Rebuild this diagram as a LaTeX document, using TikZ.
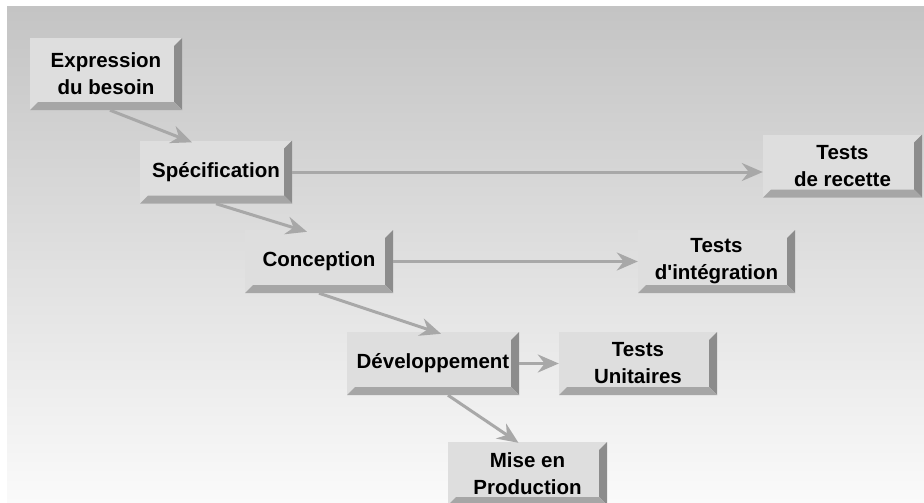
\documentclass[tikz,border=0pt]{standalone}
\usepackage{fontspec}
\setmainfont{Liberation Sans}
\usetikzlibrary{arrows.meta}

\definecolor{boxface}{HTML}{DEDEDE}
\definecolor{bevelright}{HTML}{8C8C8C}
\definecolor{bevelbottom}{HTML}{A6A6A6}
\definecolor{arrowgray}{HTML}{A8A8A8}
\definecolor{bgtop}{HTML}{C4C4C4}
\definecolor{bgmid}{HTML}{E2E2E2}
\definecolor{bgbottom}{HTML}{FAFAFA}

\tikzset{
    stage/.style={rectangle, fill=boxface, inner sep=0pt, align=center,
        minimum height=63pt,
        font=\bfseries\fontsize{20.5}{27}\selectfont,
        path picture={
            \fill[bevelright] (path picture bounding box.north east)
                -- (path picture bounding box.south east)
                -- ([shift={(-8pt,8pt)}]path picture bounding box.south east)
                -- ([shift={(-8pt,-8pt)}]path picture bounding box.north east) -- cycle;
            \fill[bevelbottom] (path picture bounding box.south west)
                -- (path picture bounding box.south east)
                -- ([shift={(-8pt,8pt)}]path picture bounding box.south east)
                -- ([shift={(8pt,8pt)}]path picture bounding box.south west) -- cycle;
        }},
    flow/.style={-{Stealth[length=21pt,width=18pt,inset=7pt]}, arrowgray, line width=3pt}
}

\begin{document}
\begin{tikzpicture}[x=1pt, y=-1pt]
    \clip (0,0) rectangle (924,503);
    \fill[white] (0,0) rectangle (924,503);
    \shade[top color=bgtop, middle color=bgmid, bottom color=bgbottom] (7,7) rectangle (924,503);

    % Nodes
    \node[stage, minimum width=152pt, minimum height=72pt] (exp) at (106,74) {Expression\\du besoin};
    \node[stage, minimum width=152pt] (spec) at (216,172) {Spécification};
    \node[stage, minimum width=148pt] (conc) at (319,261.5) {Conception};
    \node[stage, minimum width=172pt] (dev) at (433,363.5) {Développement};
    \node[stage, minimum width=158pt] (unit) at (638,363.5) {Tests\\Unitaires};
    \node[stage, minimum width=159pt] (mise) at (527.5,473.5) {Mise en\\Production};
    \node[stage, minimum width=159pt] (recette) at (842.5,166) {Tests\\de recette};
    \node[stage, minimum width=157pt] (integ) at (716.5,261.5) {Tests\\d\textquotesingle intégration};

    % Arrows
    \draw[flow] ([xshift=4pt]exp.south) -- ([xshift=-24pt,yshift=-2pt]spec.north);
    \draw[flow] (spec.south) -- ([xshift=-12pt,yshift=-2pt]conc.north);
    \draw[flow] (conc.south) -- ([xshift=8pt,yshift=-2pt]dev.north);
    \draw[flow] ([xshift=15pt]dev.south) -- ([xshift=-9pt,yshift=-1pt]mise.north);
    \draw[flow] (spec.east) -- (spec.east -| recette.west);
    \draw[flow] (conc.east) -- (integ.west);
    \draw[flow] (dev.east) -- (unit.west);
\end{tikzpicture}
\end{document}
